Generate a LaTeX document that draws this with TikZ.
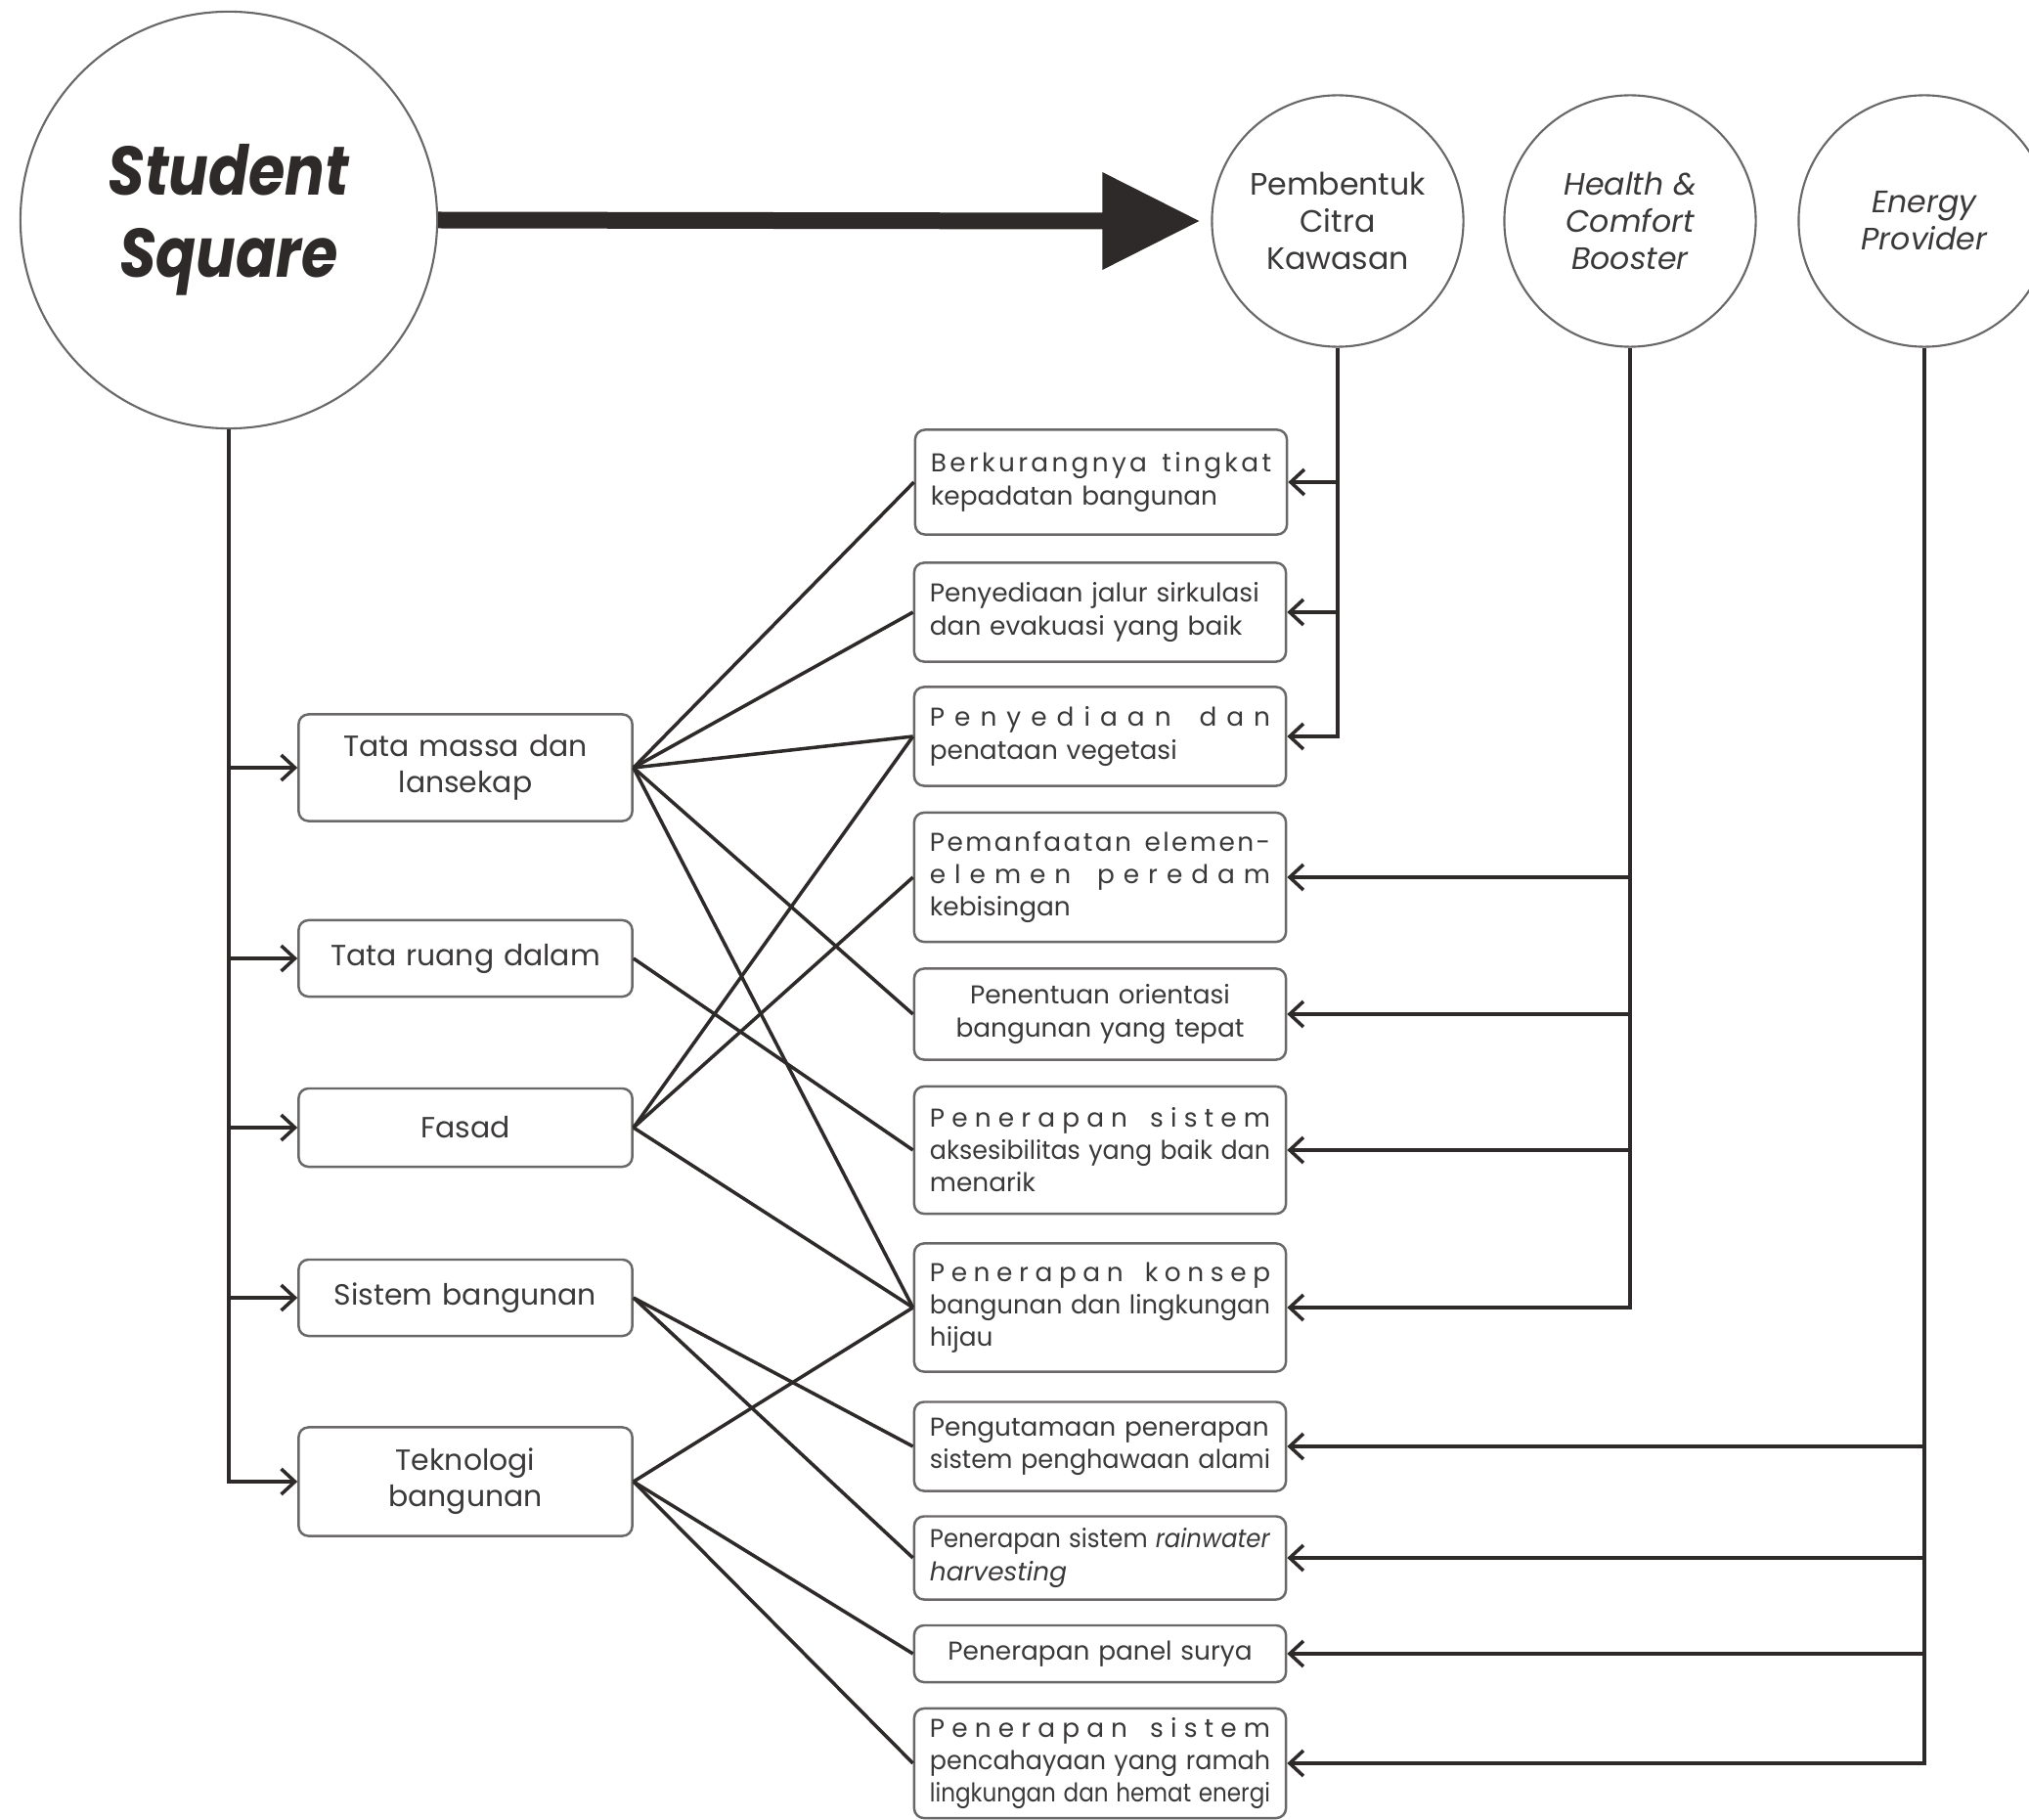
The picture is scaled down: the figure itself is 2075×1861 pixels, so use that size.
\documentclass[tikz,border=0pt]{standalone}
\usepackage{fontspec}
\usepackage{graphicx}
\setmainfont{Poppins}
\usetikzlibrary{arrows.meta,calc}

\definecolor{ink}{HTML}{2E2A29}
\definecolor{txt}{HTML}{3A3838}
\definecolor{rim}{HTML}{6A6767}

% a line whose letters are spread over the full line width
\newcommand\spreadline[1]{\leavevmode\hbox to\linewidth{\spreadnext#1\relax\unskip}\par}
\def\spreadnext#1{\ifx#1\relax\else#1\hfill\expandafter\spreadnext\fi}
% a line that is squeezed when it is too long; otherwise stretched (s), left (l) or centred (c)
\newsavebox\linebox
\newcommand\setline[2]{\sbox\linebox{#2}%
  \ifdim\wd\linebox>\linewidth
    \pgfmathsetmacro\lineratio{\linewidth/\wd\linebox}%
    \leavevmode\hbox to\linewidth{\scalebox{\lineratio}[1]{\usebox\linebox}\hss}\par
  \else
    \leavevmode\hbox to\linewidth{\makebox[\linewidth][#1]{#2}}\par
  \fi}
\newcommand\fullline[1]{\setline{s}{#1}}
\newcommand\fitline[1]{\setline{l}{#1}}
\newcommand\midline[1]{\setline{c}{#1}}
\newcommand\narrow[1]{\scalebox{0.86}[1]{#1}}

\begin{document}
\begin{tikzpicture}[x=0.01cm,y=-0.01cm,
  bigcirc/.style={circle,draw=rim,line width=0.6pt,minimum size=4.26cm,inner sep=0pt,
    align=center,text=ink,font=\fontsize{20}{24}\selectfont\bfseries\itshape},
  aimcirc/.style={circle,draw=rim,line width=0.6pt,minimum size=2.57cm,inner sep=0pt,
    align=center,text=txt,font=\fontsize{9}{10.8}\selectfont},
  lbox/.style={draw=rim,line width=0.7pt,rounded corners=0.1cm,minimum width=3.41cm,
    text width=3.2cm,inner xsep=0.105cm,inner ysep=0pt,align=center,text=txt,
    font=\fontsize{8.5}{10.5}\selectfont},
  rbox/.style={draw=rim,line width=0.7pt,rounded corners=0.1cm,minimum width=3.8cm,
    text width=3.48cm,inner xsep=0.16cm,inner ysep=0pt,text=txt,
    font=\fontsize{7.5}{9.4}\selectfont},
  conn/.style={draw=ink,line width=1pt},
  arr/.style={conn,-{Straight Barb[length=0.14cm,width=0.26cm]}}
]
\useasboundingbox (0,0) rectangle (2075,1861);
\clip (0,0) rectangle (2075,1861);

% main circle and the three aims
\node[bigcirc] (ss) at (234,225) {\narrow{Student}\\\narrow{Square}};
\node[aimcirc] (pc) at (1368,226) {Pembentuk\\Citra\\Kawasan};
\node[aimcirc,font=\fontsize{9}{10.8}\selectfont\itshape] (hc) at (1667,226) {Health \&\\Comfort\\Booster};
\node[aimcirc,font=\fontsize{9}{10.8}\selectfont\itshape] (ep) at (1968,226) {Energy\\Provider};

% design aspects
\node[lbox,minimum height=1.09cm] (l1) at (476,785) {Tata massa dan\\lansekap};
\node[lbox,minimum height=0.78cm] (l2) at (476,980) {Tata ruang dalam};
\node[lbox,minimum height=0.80cm] (l3) at (476,1153) {Fasad};
\node[lbox,minimum height=0.78cm] (l4) at (476,1327) {Sistem bangunan};
\node[lbox,minimum height=1.11cm] (l5) at (476,1515) {Teknologi\\bangunan};

% design strategies
\node[rbox,minimum height=1.07cm] (r1) at (1126,493)
  {\spreadline{Berkurangnya~tingkat}\fitline{kepadatan bangunan}};
\node[rbox,minimum height=1.01cm] (r2) at (1125,626)
  {\fullline{Penyediaan jalur sirkulasi}\fitline{dan evakuasi yang baik}};
\node[rbox,minimum height=1.01cm] (r3) at (1125,753)
  {\spreadline{Penyediaan~dan}\fitline{penataan vegetasi}};
\node[rbox,minimum height=1.32cm] (r4) at (1125,897)
  {\spreadline{Pemanfaatan~elemen-}\spreadline{elemen~peredam}\fitline{kebisingan}};
\node[rbox,minimum height=0.93cm] (r5) at (1125,1037)
  {\midline{Penentuan orientasi}\midline{bangunan yang tepat}};
\node[rbox,minimum height=1.30cm] (r6) at (1125,1176)
  {\spreadline{Penerapan~sistem}\fullline{aksesibilitas yang baik dan}\fitline{menarik}};
\node[rbox,minimum height=1.31cm] (r7) at (1125,1337)
  {\spreadline{Penerapan~konsep}\fullline{bangunan dan lingkungan}\fitline{hijau}};
\node[rbox,minimum height=0.91cm] (r8) at (1125,1479)
  {\fullline{Pengutamaan penerapan}\fitline{sistem penghawaan alami}};
\node[rbox,minimum height=0.85cm] (r9) at (1125,1593)
  {\fullline{Penerapan sistem \textit{rainwater}}\fitline{\textit{harvesting}}};
\node[rbox,minimum height=0.58cm] (r10) at (1125,1691)
  {\midline{Penerapan panel surya}};
\node[rbox,minimum height=1.12cm] (r11) at (1125,1803)
  {\spreadline{Penerapan~sistem}\fullline{pencahayaan yang ramah}\fullline{lingkungan dan hemat energi}};

% the bold arrow from the main circle to the aims
\fill[ink] ($(ss.east)+(0,-8.5)$) -- ($(pc.west)+(-111,-8.5)$) -- ($(pc.west)+(-111,-50)$)
  -- ($(pc.west)+(-12,0)$) -- ($(pc.west)+(-111,50)$) -- ($(pc.west)+(-111,8.5)$)
  -- ($(ss.east)+(0,8.5)$) -- cycle;

% tree from the main circle to the design aspects
\draw[arr] (ss.south) |- (l5.west);
\foreach \b in {l1,l2,l3,l4} \draw[arr] (ss.south |- \b.west) -- (\b.west);

% aims to strategies
\draw[arr] (pc.south) |- (r3.east);
\foreach \b in {r1,r2} \draw[arr] (pc.south |- \b.east) -- (\b.east);
\draw[arr] (hc.south) |- (r7.east);
\foreach \b in {r4,r5,r6} \draw[arr] (hc.south |- \b.east) -- (\b.east);
\draw[arr] (ep.south) |- (r11.east);
\foreach \b in {r8,r9,r10} \draw[arr] (ep.south |- \b.east) -- (\b.east);

% aspects to strategies
\foreach \b in {r1,r2,r3,r5,r7} \draw[conn] (l1.east) -- (\b.west);
\draw[conn] (l2.east) -- (r6.west);
\foreach \b in {r3,r4,r7} \draw[conn] (l3.east) -- (\b.west);
\foreach \b in {r8,r9} \draw[conn] (l4.east) -- (\b.west);
\foreach \b in {r7,r10,r11} \draw[conn] (l5.east) -- (\b.west);
\end{tikzpicture}
\end{document}
